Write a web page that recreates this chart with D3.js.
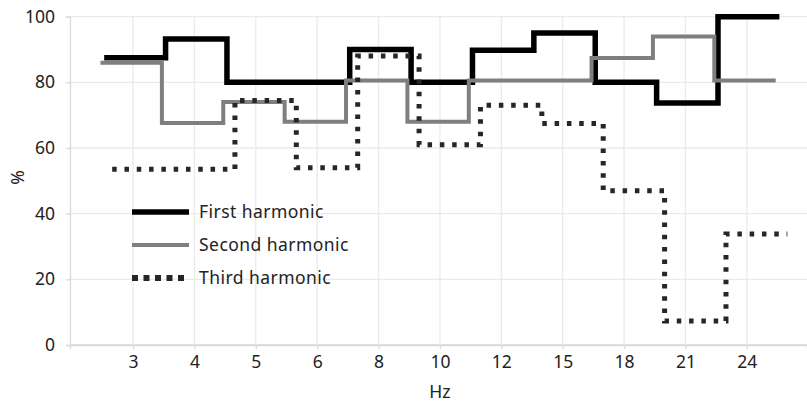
<!DOCTYPE html>
<html>
<head>
<meta charset="utf-8">
<script src="https://cdn.jsdelivr.net/npm/d3@7"></script>
<style>
  html, body { margin: 0; padding: 0; background: #fff; }
  svg { display: block; }
  text { font-family: "Noto Sans", "DejaVu Sans", sans-serif; fill: #222; }
</style>
</head>
<body>
<svg id="chart" width="807" height="404"></svg>
<script>
// ---- data ----
const categories = ["3", "4", "5", "6", "8", "10", "12", "15", "18", "21", "24"];
const firstHarmonic  = [87.5, 93.2, 80, 80, 90, 80, 89.8, 95, 80, 73.7, 100];
const secondHarmonic = [86, 67.6, 74, 68, 80.6, 68, 80.6, 80.6, 87.4, 94, 80.6];
const thirdHarmonic  = [53.5, 53.5, 74.5, 54, 88, 61, 73, 67.5, 47, 7.3, 33.8];
const seriesNames = ["First harmonic", "Second harmonic", "Third harmonic"];
const yTicks = [0, 20, 40, 60, 80, 100];

// ---- layout / style ----
const W = 807, H = 404;
const plot = { left: 70, right: 807, top: 16.7, bottom: 345 };
const styles = [
  { color: "#000000", width: 5.5, dash: null, offset: 0.03 },
  { color: "#7f7f7f", width: 4, dash: null, offset: -0.03 },
  { color: "#262626", width: 5, dash: "4.5,7.8", offset: 0.16 }
];
const FONT = "17.5px";

const svg = d3.select("#chart");

const x = d3.scaleLinear().domain([-1.027, 10.98]).range([plot.left, plot.right]);
const y = d3.scaleLinear().domain([0, 100]).range([plot.bottom, plot.top]);

// gridlines
const grid = svg.append("g");
grid.selectAll("line.h").data(yTicks).join("line")
  .attr("x1", plot.left).attr("x2", plot.right)
  .attr("y1", d => y(d)).attr("y2", d => y(d))
  .attr("stroke", d => d === 0 ? "#d9d9d9" : "#eaeaea").attr("stroke-width", 1.3);
grid.selectAll("line.v").data(categories.map((c, i) => i)).join("line")
  .attr("x1", d => x(d)).attr("x2", d => x(d))
  .attr("y1", plot.top).attr("y2", plot.bottom)
  .attr("stroke", "#eaeaea").attr("stroke-width", 1.3);

// axes
const xAxis = d3.axisBottom(x)
  .tickValues(categories.map((c, i) => i))
  .tickFormat(i => categories[i])
  .tickSize(4).tickPadding(7);
const gx = svg.append("g").attr("transform", `translate(0,${plot.bottom})`).call(xAxis);
gx.select(".domain").attr("stroke", "#d9d9d9").attr("stroke-width", 1.3);
gx.selectAll(".tick line").attr("stroke", "#d9d9d9").attr("stroke-width", 1.3);
gx.selectAll(".tick text").style("font-size", FONT).style("font-family", "Noto Sans").attr("fill", "#222");

const yAxis = d3.axisLeft(y).tickValues(yTicks).tickSize(4).tickPadding(11);
const gy = svg.append("g").attr("transform", `translate(${plot.left},0)`).call(yAxis);
gy.select(".domain").attr("stroke", "#d9d9d9").attr("stroke-width", 1.3);
gy.selectAll(".tick line").attr("stroke", "#d9d9d9").attr("stroke-width", 1.3);
gy.selectAll(".tick text").style("font-size", FONT).style("font-family", "Noto Sans").attr("fill", "#222");

// axis titles
svg.append("text").attr("x", x(5)).attr("y", 398).attr("text-anchor", "middle")
  .style("font-size", FONT).text("Hz");
svg.append("text").attr("transform", `translate(24,${y(51)}) rotate(-90)`)
  .attr("text-anchor", "middle").style("font-size", FONT).text("%");

// step lines
const allSeries = [firstHarmonic, secondHarmonic, thirdHarmonic];
const line = d3.line().x(d => x(d[0])).y(d => y(d[1]));
allSeries.forEach((vals, s) => {
  const st = styles[s];
  const pts = [];
  vals.forEach((v, i) => {
    pts.push([i - 0.5 + st.offset, v]);
    pts.push([i + 0.5 + st.offset, v]);
  });
  svg.append("path").datum(pts)
    .attr("d", line)
    .attr("fill", "none")
    .attr("stroke", st.color)
    .attr("stroke-width", st.width)
    .attr("stroke-linejoin", "miter")
    .attr("stroke-linecap", "butt")
    .attr("stroke-dasharray", st.dash);
});

// legend
const legend = svg.append("g");
seriesNames.forEach((name, s) => {
  const st = styles[s];
  const ly = 212 + s * 33;
  legend.append("line")
    .attr("x1", 132).attr("x2", 189).attr("y1", ly).attr("y2", ly)
    .attr("stroke", st.color).attr("stroke-width", s === 2 ? 6 : st.width)
    .attr("stroke-dasharray", s === 2 ? "6,5.5" : st.dash);
  legend.append("text").attr("x", 199).attr("y", ly + 6)
    .style("font-size", "17.5px").style("letter-spacing", "0.45px").text(name);
});
</script>
</body>
</html>
